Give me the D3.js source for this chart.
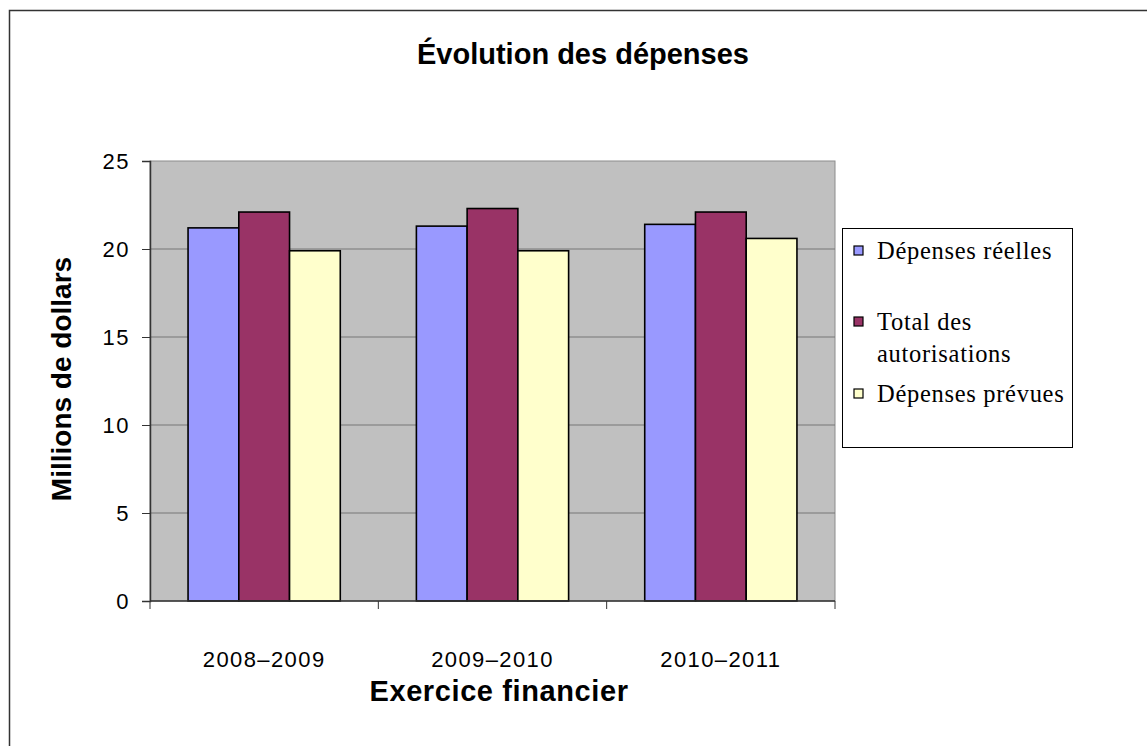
<!DOCTYPE html>
<html>
<head>
<meta charset="utf-8">
<script src="https://cdn.jsdelivr.net/npm/d3@7"></script>
<style>
  html, body { margin: 0; padding: 0; background: #fff; }
  svg { display: block; }
</style>
</head>
<body>
<script>
  var years = ["2008–2009", "2009–2010", "2010–2011"];
  var series = ["Dépenses réelles", "Total des autorisations", "Dépenses prévues"];
  var legendLines = [["Dépenses réelles"], ["Total des", "autorisations"], ["Dépenses prévues"]];
  var reelles = [21.2, 21.3, 21.4];
  var autorisations = [22.1, 22.3, 22.1];
  var prevues = [19.9, 19.9, 20.6];
  var yTicks = [0, 5, 10, 15, 20, 25];
  var colors = ["#9999FF", "#993366", "#FFFFCC"];

  var values = [reelles, autorisations, prevues];

  var W = 1147, H = 746;
  var plot = { left: 150, right: 835, top: 161, bottom: 601 };
  var sans = "Liberation Sans, Arial, sans-serif";

  var svg = d3.select("body")
    .append("svg")
    .attr("width", W)
    .attr("height", H);

  // outer chart frame (right and bottom fall outside the picture)
  svg.append("rect")
    .attr("x", 9.5)
    .attr("y", 10.5)
    .attr("width", 1300)
    .attr("height", 900)
    .style("fill", "none")
    .style("stroke", "#333")
    .style("stroke-width", 1.5);

  var x0 = d3.scaleBand()
    .domain(years)
    .range([plot.left, plot.right])
    .padding(0);

  var x1 = d3.scaleBand()
    .domain(d3.range(series.length))
    .range([0, x0.bandwidth()])
    .paddingInner(0)
    .paddingOuter(0.75);

  var y = d3.scaleLinear()
    .domain([0, 25])
    .range([plot.bottom, plot.top]);

  // plot area
  svg.append("rect")
    .attr("x", plot.left)
    .attr("y", plot.top)
    .attr("width", plot.right - plot.left)
    .attr("height", plot.bottom - plot.top)
    .style("fill", "#C0C0C0")
    .style("stroke", "#8c8c8c")
    .style("stroke-width", 1);

  svg.append("g")
    .selectAll("line")
    .data(yTicks.slice(1, -1))
    .enter()
    .append("line")
    .attr("x1", plot.left)
    .attr("x2", plot.right)
    .attr("y1", function (d) { return y(d); })
    .attr("y2", function (d) { return y(d); })
    .style("stroke", "#777")
    .style("stroke-width", 1);

  // bars
  var flat = [];
  years.forEach(function (yr, i) {
    values.forEach(function (arr, s) {
      flat.push({ year: yr, s: s, v: arr[i] });
    });
  });

  svg.append("g")
    .selectAll("rect")
    .data(flat)
    .enter()
    .append("rect")
    .attr("x", function (d) { return x0(d.year) + x1(d.s); })
    .attr("y", function (d) { return y(d.v); })
    .attr("width", x1.bandwidth())
    .attr("height", function (d) { return y(0) - y(d.v); })
    .style("fill", function (d) { return colors[d.s]; })
    .style("stroke", "#000")
    .style("stroke-width", 1.6);

  // y axis
  var yAxis = d3.axisLeft(y)
    .tickValues(yTicks)
    .tickSize(8)
    .tickPadding(12)
    .tickFormat(d3.format("d"));

  var gy = svg.append("g")
    .attr("transform", "translate(" + plot.left + ",0)")
    .call(yAxis);
  gy.select(".domain").style("stroke", "#333").style("stroke-width", 1.5);
  gy.selectAll(".tick line").style("stroke", "#333");
  gy.selectAll(".tick text")
    .style("font-family", sans)
    .style("font-size", "22px")
    .style("letter-spacing", "1.5px")
    .style("fill", "#000");

  // x axis: ticks between categories
  var gx = svg.append("g")
    .attr("transform", "translate(0," + plot.bottom + ")");
  gx.append("line")
    .attr("x1", plot.left)
    .attr("x2", plot.right)
    .style("stroke", "#333")
    .style("stroke-width", 1.5);
  var bounds = years.map(function (d) { return x0(d); }).concat([plot.right]);
  gx.selectAll(".xt")
    .data(bounds)
    .enter()
    .append("line")
    .attr("class", "xt")
    .attr("x1", function (d) { return d; })
    .attr("x2", function (d) { return d; })
    .attr("y1", 0)
    .attr("y2", 8)
    .style("stroke", "#333");
  gx.selectAll("text")
    .data(years)
    .enter()
    .append("text")
    .attr("x", function (d) { return x0(d) + x0.bandwidth() / 2; })
    .attr("y", 66)
    .attr("text-anchor", "middle")
    .style("font-family", sans)
    .style("font-size", "22px")
    .style("letter-spacing", "1.4px")
    .text(function (d) { return d; });

  // titles
  svg.append("text")
    .attr("x", 583)
    .attr("y", 64)
    .attr("text-anchor", "middle")
    .style("font-family", sans)
    .style("font-weight", "bold")
    .style("font-size", "29px")
    .text("Évolution des dépenses");

  svg.append("text")
    .attr("x", 499)
    .attr("y", 701)
    .attr("text-anchor", "middle")
    .style("font-family", sans)
    .style("font-weight", "bold")
    .style("font-size", "29px")
    .style("letter-spacing", "0.6px")
    .text("Exercice financier");

  svg.append("text")
    .attr("transform", "translate(71," + ((plot.top + plot.bottom) / 2 - 2) + ") rotate(-90)")
    .attr("text-anchor", "middle")
    .style("font-family", sans)
    .style("font-weight", "bold")
    .style("font-size", "28px")
    .text("Millions de dollars");

  // legend
  var lg = svg.append("g");
  lg.append("rect")
    .attr("x", 842.5)
    .attr("y", 228.5)
    .attr("width", 230)
    .attr("height", 219)
    .style("fill", "#fff")
    .style("stroke", "#000")
    .style("stroke-width", 1);

  var baselines = [259, 330, 402];
  var items = lg.selectAll(".item")
    .data(series)
    .enter()
    .append("g")
    .attr("class", "item")
    .attr("transform", function (d, i) { return "translate(0," + baselines[i] + ")"; });

  items.append("rect")
    .attr("x", 854)
    .attr("y", -13)
    .attr("width", 9)
    .attr("height", 9)
    .style("fill", function (d, i) { return colors[i]; })
    .style("stroke", "#000")
    .style("stroke-width", 1.2);

  items.append("text")
    .attr("x", 877)
    .style("font-family", "Liberation Serif, Times New Roman, serif")
    .style("font-size", "24.5px")
    .style("letter-spacing", "0.7px")
    .selectAll("tspan")
    .data(function (d, i) { return legendLines[i]; })
    .enter()
    .append("tspan")
    .attr("x", 877)
    .attr("dy", function (d, j) { return j === 0 ? 0 : 32; })
    .text(function (d) { return d; });
</script>
</body>
</html>
